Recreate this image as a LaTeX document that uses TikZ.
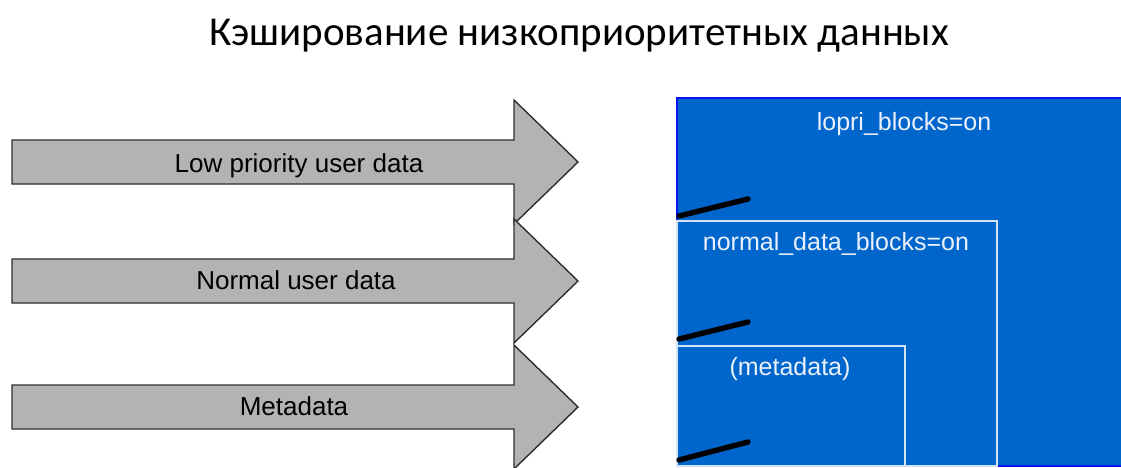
\documentclass[tikz,border=0pt]{standalone}
\usepackage{fontspec}
\setmainfont{Liberation Sans}
\newfontfamily\titlefont{Carlito}
\definecolor{arrowgray}{HTML}{B3B3B3}
\definecolor{arrowedge}{HTML}{2E2E2E}
\definecolor{panelblue}{HTML}{0066CC}
\definecolor{paneledge}{HTML}{0A14F0}
\definecolor{inneredge}{HTML}{D4E2F6}
\definecolor{paneltext}{HTML}{EAF1FC}
\begin{document}
\begin{tikzpicture}[x=1pt,y=-1pt,
  bigarrow/.style={fill=arrowgray,draw=arrowedge,line width=1.4pt,line join=miter},
  arrowlabel/.style={anchor=base,inner sep=0pt,font=\fontsize{26}{30}\selectfont,text=black},
  paneltextstyle/.style={anchor=base,inner sep=0pt,font=\fontsize{25}{30}\selectfont,text=paneltext},
  innerbox/.style={draw=inneredge,line width=1.2pt},
  slash/.style={line width=5.4pt,black,line cap=round}]
\useasboundingbox (0,0) rectangle (1121,467);
\clip (0,0) rectangle (1121,467);
% title
\node[anchor=base,inner sep=0pt,font=\titlefont\fontsize{41}{48}\selectfont] (title) at (579,45) {Кэширование низкоприоритетных данных};
% arrows
\foreach \yc/\nm in {162/a1,281/a2,407/a3}{
  \draw[bigarrow] (12,\yc-22) -- (514,\yc-22) -- (514,\yc-62) -- (578,\yc) -- (514,\yc+62) -- (514,\yc+22) -- (12,\yc+22) -- cycle;
}
\node[arrowlabel] (l1) at (299,172) {Low priority user data};
\node[arrowlabel] (l2) at (296,289) {Normal user data};
\node[arrowlabel] (l3) at (294,415) {Metadata};
% panel
\fill[panelblue] (677,98) rectangle (1125,466);
\draw[paneledge,line width=2pt] (677,466) -- (677,98) -- (1125,98);
\draw[paneledge,line width=2pt] (997,466) -- (1125,466);
\draw[innerbox] (677,221) rectangle (997,466);
\draw[innerbox] (677,346) rectangle (905,466);
\node[paneltextstyle] (t1) at (904,130) {lopri\_blocks=on};
\node[paneltextstyle] (t2) at (836,250) {normal\_data\_blocks=on};
\node[paneltextstyle] (t3) at (790,375) {(metadata)};
% slashes
\draw[slash] (679,216) -- (748,199);
\draw[slash] (679,339) -- (748,322);
\draw[slash] (679,460) -- (748,442);
\end{tikzpicture}
\end{document}
